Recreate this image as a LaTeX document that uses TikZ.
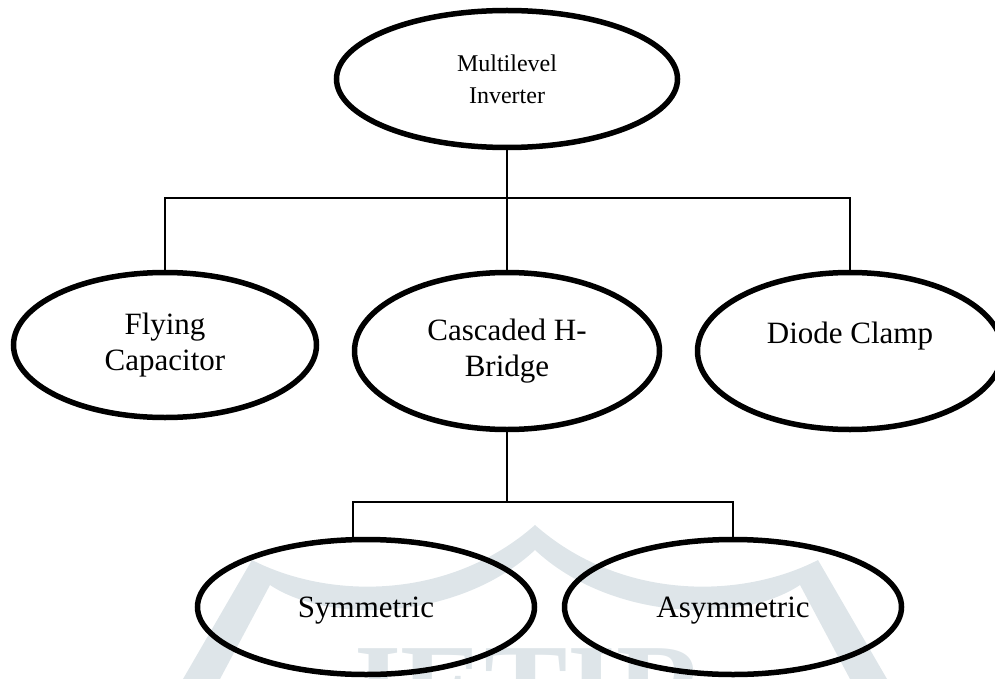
\documentclass[tikz,border=0pt]{standalone}
\usepackage{fontspec}
\setmainfont{Liberation Serif}
\usetikzlibrary{shapes.geometric}
\definecolor{wm}{RGB}{222,229,233}
\begin{document}
\begin{tikzpicture}[x=1pt,y=-1pt,
  oval/.style={ellipse, draw, line width=5.5pt, inner sep=0pt, align=center,
               font=\fontsize{31}{36}\selectfont},
  conn/.style={line width=2pt}]
\useasboundingbox (0,0) rectangle (995,679);
% faint watermark
\begin{scope}
\clip (0,0) rectangle (995,679);
\fill[wm] (183,679) -- (252,560)
  .. controls (330,600) and (450,600) .. (535,525)
  .. controls (620,600) and (740,600) .. (818,560)
  -- (887,679) -- (850,679) -- (800,585)
  .. controls (740,625) and (610,620) .. (535,550)
  .. controls (460,620) and (330,625) .. (270,585)
  -- (220,679) -- cycle;
\node[text=wm, font=\bfseries\fontsize{125}{125}\selectfont, anchor=north west,
      inner sep=0pt] (wmtext) at (338,648) {JETIR};
\end{scope}
% nodes
\node[oval, minimum width=341, minimum height=137, font=\fontsize{24}{32}\selectfont]
  (mli) at (507,79) {Multilevel\\Inverter};
\node[oval, minimum width=303, minimum height=145] (fc) at (165,345) {Flying\\Capacitor};
\node[oval, minimum width=305, minimum height=157] (chb) at (507,351) {Cascaded H-\\Bridge};
\node[oval, minimum width=305, minimum height=157] (dc) at (850,351) {Diode Clamp\\\mbox{}};
\node[oval, minimum width=337, minimum height=135, text depth=0pt] (sym) at (366,607) {Symmetric};
\node[oval, minimum width=337, minimum height=135, text depth=0pt] (asym) at (733,607) {Asymmetric};
% connectors
\coordinate (bar) at (507,198);
\draw[conn] (mli.south) -- (chb.north);
\draw[conn] (fc.north) -- (fc.north |- bar) -- (dc.north |- bar) -- (dc.north);
\coordinate (bar2) at (507,502);
\coordinate (symtop) at (353,538);
\draw[conn] (chb.south) -- (bar2);
\draw[conn] (symtop) -- (symtop |- bar2) -- (asym.north |- bar2) -- (asym.north);
\end{tikzpicture}
\end{document}
